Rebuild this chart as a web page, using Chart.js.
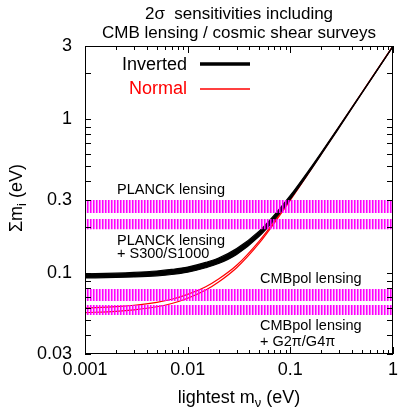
<!DOCTYPE html>
<html>
<head>
<meta charset="utf-8">
<script src="https://cdn.jsdelivr.net/npm/chart.js@4/dist/chart.umd.min.js"></script>
<style>
  body { margin: 0; background: #fff; }
  #wrap { width: 399px; height: 412px; }
</style>
</head>
<body>
<div id="wrap"><canvas id="sens"></canvas></div>
<script>
// lightest neutrino mass (eV)
const mLightest = [0.001, 0.002, 0.003, 0.005, 0.007, 0.01, 0.015, 0.02, 0.03, 0.05, 0.07, 0.1, 0.15, 0.2, 0.3, 0.5, 0.7, 1];
// sum of masses, upper / lower edge of each hierarchy band (eV)
const invertedHi = [0.0995, 0.1005, 0.1016, 0.1038, 0.1062, 0.110, 0.118, 0.126, 0.145, 0.189, 0.240, 0.321, 0.464, 0.610, 0.906, 1.503, 2.10, 3.0];
const invertedLo = [0.0935, 0.0942, 0.095, 0.0966, 0.0985, 0.102, 0.109, 0.116, 0.133, 0.175, 0.224, 0.304, 0.446, 0.592, 0.888, 1.485, 2.08, 2.98];
const normalHi = [0.0597, 0.0609, 0.0622, 0.0650, 0.068, 0.0732, 0.082, 0.092, 0.113, 0.163, 0.218, 0.305, 0.452, 0.602, 0.902, 1.502, 2.10, 3.0];
const normalLo = [0.0557, 0.0568, 0.0581, 0.0608, 0.0638, 0.069, 0.078, 0.088, 0.109, 0.158, 0.213, 0.299, 0.446, 0.596, 0.896, 1.496, 2.095, 2.99];

// 2 sigma sensitivity bands [low, high] (eV)
const bandNames = ['PLANCK lensing', 'PLANCK lensing + S300/S1000', 'CMBpol lensing', 'CMBpol lensing + G2pi/G4pi'];
const bandLow = [0.247, 0.194, 0.0663, 0.0538];
const bandHigh = [0.300, 0.226, 0.0793, 0.0624];

const xTicks = [0.001, 0.01, 0.1, 1];
const yTicks = [0.03, 0.1, 0.3, 1, 3];

const FONT = '"Liberation Sans", Arial, sans-serif';
const canvas = document.getElementById('sens');
const ctx = canvas.getContext('2d');

// vertical magenta hatching used for the sensitivity bands
function hatchPattern() {
    const c = document.createElement('canvas');
    c.width = 3;
    c.height = 4;
    const g = c.getContext('2d');
    g.fillStyle = '#ff00ff';
    g.fillRect(0, 0, 1, 4);
    g.fillStyle = 'rgba(255,0,255,0.6)';
    g.fillRect(1, 0, 1, 4);
    g.fillStyle = 'rgba(255,0,255,0.15)';
    g.fillRect(2, 0, 1, 4);
    return ctx.createPattern(c, 'repeat');
}
const hatch = hatchPattern();

const pts = (ys) => mLightest.map((x, i) => ({ x: x, y: ys[i] }));
const flat = (v) => [{ x: xTicks[0], y: v }, { x: xTicks[xTicks.length - 1], y: v }];

const datasets = [];
bandNames.forEach((name, i) => {
    datasets.push({ label: name + ' hi', data: flat(bandHigh[i]), borderWidth: 0, pointRadius: 0, fill: false });
    datasets.push({ label: name + ' lo', data: flat(bandLow[i]), borderWidth: 0, pointRadius: 0, fill: '-1', backgroundColor: hatch });
});
datasets.push({ label: 'Inverted hi', data: pts(invertedHi), borderColor: '#000', borderWidth: 1.2, pointRadius: 0, cubicInterpolationMode: 'monotone', fill: false });
datasets.push({ label: 'Inverted lo', data: pts(invertedLo), borderColor: '#000', borderWidth: 1.2, pointRadius: 0, cubicInterpolationMode: 'monotone', fill: '-1', backgroundColor: '#000' });
datasets.push({ label: 'Normal hi', data: pts(normalHi), borderColor: '#ff0000', borderWidth: 1.2, pointRadius: 0, cubicInterpolationMode: 'monotone', fill: false });
datasets.push({ label: 'Normal lo', data: pts(normalLo), borderColor: '#ff0000', borderWidth: 1.2, pointRadius: 0, cubicInterpolationMode: 'monotone', fill: false });

function minorTicks(min, max) {
    const out = [];
    for (let d = min; d < max * 1.001; d *= 10) {
        for (let k = 1; k < 10; k++) {
            const v = +(d * k).toPrecision(3);
            if (v >= min * 0.999 && v <= max * 1.001) out.push(v);
        }
    }
    return out;
}

// frame, inward ticks, titles, legend and annotations
const decorations = {
    id: 'decorations',
    afterDraw(chart) {
        const c = chart.ctx;
        const a = chart.chartArea;
        const xs = chart.scales.x;
        const ys = chart.scales.y;
        c.save();
        c.strokeStyle = '#000';
        c.lineWidth = 1;
        c.strokeRect(a.left + 0.5, a.top + 0.5, a.right - a.left - 1, a.bottom - a.top - 1);

        c.beginPath();
        minorTicks(0.001, 1).forEach(v => {
            const px = Math.round(xs.getPixelForValue(v)) + 0.5;
            const len = xTicks.includes(v) ? 7 : 4;
            c.moveTo(px, a.bottom); c.lineTo(px, a.bottom - len);
            c.moveTo(px, a.top); c.lineTo(px, a.top + len);
        });
        minorTicks(0.01, 3).filter(v => v >= 0.03).forEach(v => {
            const py = Math.round(ys.getPixelForValue(v)) + 0.5;
            const len = 6;
            c.moveTo(a.left, py); c.lineTo(a.left + len, py);
            c.moveTo(a.right, py); c.lineTo(a.right - len, py);
        });
        c.stroke();

        c.fillStyle = '#000';
        c.textBaseline = 'middle';
        c.textAlign = 'center';
        const cx = (a.left + a.right) / 2;
        c.font = '17px ' + FONT;
        c.fillText('2\u03c3  sensitivities including', cx, 14);
        c.fillText('CMB lensing / cosmic shear surveys', cx, 33);

        // axis titles with subscripts
        const parts = (main, sub, tail, y, x) => {
            c.font = '18px ' + FONT;
            const w1 = c.measureText(main).width;
            const w3 = c.measureText(tail).width;
            c.font = '13px ' + FONT;
            const w2 = c.measureText(sub).width;
            const s = x - (w1 + w2 + w3) / 2;
            c.textAlign = 'left';
            c.font = '18px ' + FONT;
            c.fillText(main, s, y);
            c.font = '13px ' + FONT;
            c.fillText(sub, s + w1, y + 5);
            c.font = '18px ' + FONT;
            c.fillText(tail, s + w1 + w2, y);
        };
        parts('lightest m', '\u03bd', ' (eV)', 398, cx);
        c.save();
        c.translate(17, 198);
        c.rotate(-Math.PI / 2);
        parts('\u03a3m', 'i', ' (eV)', 0, 0);
        c.restore();

        // legend
        c.font = '18px ' + FONT;
        c.textAlign = 'right';
        c.fillStyle = '#000';
        c.fillText('Inverted', 187, 65);
        c.fillStyle = '#ff0000';
        c.fillText('Normal', 187, 89);
        c.lineWidth = 3.5;
        c.strokeStyle = '#000';
        c.beginPath(); c.moveTo(200, 64); c.lineTo(250, 64); c.stroke();
        c.lineWidth = 1.5;
        c.strokeStyle = '#ff0000';
        c.beginPath(); c.moveTo(200, 89); c.lineTo(250, 89); c.stroke();

        // band annotations
        c.fillStyle = '#000';
        c.textAlign = 'left';
        c.font = '14.5px ' + FONT;
        c.fillText('PLANCK lensing', 117, 190);
        c.fillText('PLANCK lensing', 117, 241);
        c.fillText('+ S300/S1000', 117, 254);
        c.fillText('CMBpol lensing', 260, 279);
        c.fillText('CMBpol lensing', 260, 326);
        c.fillText('+ G2\u03c0/G4\u03c0', 260, 342);
        c.restore();
    }
};

new Chart(ctx, {
    type: 'line',
    data: { datasets: datasets },
    options: {
        responsive: true,
        maintainAspectRatio: false,
        animation: false,
        layout: { padding: { top: 46, right: 6, left: 0, bottom: 0 } },
        plugins: { legend: { display: false }, tooltip: { enabled: false } },
        scales: {
            x: {
                type: 'logarithmic',
                min: 0.001,
                max: 1,
                grid: { display: false, drawTicks: false },
                border: { display: false },
                afterBuildTicks: (s) => { s.ticks = xTicks.map(v => ({ value: v })); },
                afterFit: (s) => { s.height = 58; s.paddingLeft = 0; s.paddingRight = 0; },
                ticks: {
                    autoSkip: false,
                    maxRotation: 0,
                    padding: 5,
                    color: '#000',
                    font: { family: FONT, size: 18 },
                    callback: (v) => String(v)
                }
            },
            y: {
                type: 'logarithmic',
                min: 0.03,
                max: 3,
                grid: { display: false, drawTicks: false },
                border: { display: false },
                afterBuildTicks: (s) => { s.ticks = yTicks.map(v => ({ value: v })); },
                afterFit: (s) => { s.width = 85; s.paddingTop = 0; s.paddingBottom = 0; },
                ticks: {
                    autoSkip: false,
                    padding: 13,
                    color: '#000',
                    font: { family: FONT, size: 18 },
                    callback: (v) => String(v)
                }
            }
        }
    },
    plugins: [decorations]
});
</script>
</body>
</html>
